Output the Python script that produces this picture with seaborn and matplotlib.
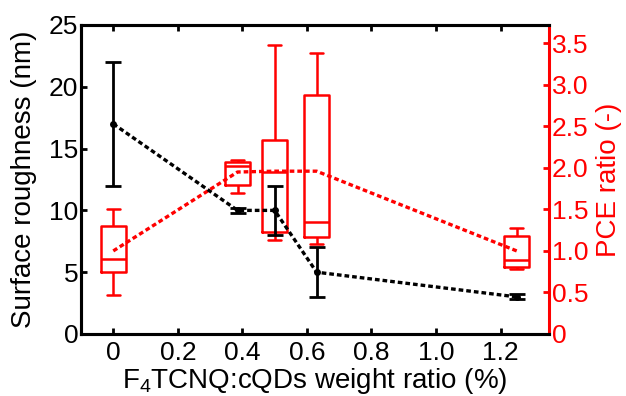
import numpy as np
import pandas as pd
import seaborn as sns
import matplotlib.pyplot as plt

# --- Data ---
ratio = [0, 0.385, 0.5, 0.63, 1.25]

# surface roughness (nm): mean with lower / upper error
rough_mean = [17, 10, 10, 5, 3]
rough_lo = [12, 9.8, 8, 3, 2.8]
rough_hi = [22, 10.2, 12, 7, 3.2]

# PCE ratio box stats: whisker low, q1, median, q3, whisker high
pce_wlo = [0.47, 1.70, 1.13, 1.08, 0.78]
pce_q1 = [0.75, 1.79, 1.23, 1.17, 0.81]
pce_med = [0.90, 2.02, 1.95, 1.35, 0.89]
pce_q3 = [1.30, 2.07, 2.33, 2.88, 1.18]
pce_whi = [1.50, 2.09, 3.48, 3.38, 1.28]
pce_mean = [1.0, 1.95, 1.96, 1.96, 1.0]

sns.set_style("ticks")
plt.rcParams["font.family"] = ["Liberation Sans", "DejaVu Sans"]
plt.rcParams["mathtext.fontset"] = "custom"
plt.rcParams["mathtext.rm"] = "Liberation Sans"
plt.rcParams["mathtext.it"] = "Liberation Sans:italic"
for key in ("text.color", "axes.labelcolor", "xtick.color", "ytick.color",
            "axes.edgecolor"):
    plt.rcParams[key] = "black"

# five values per group so the quartiles land exactly on the stats
rows = []
for i, x in enumerate(ratio):
    for v in (pce_wlo[i], pce_q1[i], pce_med[i], pce_q3[i], pce_whi[i]):
        rows.append({"ratio": x, "pce": v})
df_box = pd.DataFrame(rows)

fig = plt.figure(figsize=(6.26, 3.96), dpi=100)
ax = fig.add_axes([0.1294, 0.1566, 0.7476, 0.7803])
ax2 = ax.twinx()

red = "#ff0000"

sns.boxplot(data=df_box, x="ratio", y="pce", native_scale=True, ax=ax2,
            whis=(0, 100), fill=False, color=red, linewidth=1.8,
            width=0.68, showfliers=False)
sns.lineplot(x=ratio, y=pce_mean, ax=ax2, color=red,
             linestyle=(0, (1.4, 0.9)), linewidth=2.4)

yerr = [np.subtract(rough_mean, rough_lo), np.subtract(rough_hi, rough_mean)]
sns.lineplot(x=ratio, y=rough_mean, ax=ax, color="black",
             linestyle=(0, (1.4, 0.9)), linewidth=2.4,
             marker="o", markersize=5, markeredgewidth=0)
ax.errorbar(ratio, rough_mean, yerr=yerr, fmt="none", ecolor="black",
            elinewidth=2, capsize=5.5, capthick=2)

ax.set_zorder(ax2.get_zorder() + 1)
ax.patch.set_visible(False)

ax.set_xlim(-0.1, 1.35)
ax.set_ylim(0, 25)
ax2.set_ylim(0, 3.72)
ax.set_xticks([0, 0.2, 0.4, 0.6, 0.8, 1.0, 1.2])
ax.set_xticklabels(["0", "0.2", "0.4", "0.6", "0.8", "1.0", "1.2"])
ax.set_yticks([0, 5, 10, 15, 20, 25])
ax2.set_yticks([0, 0.5, 1.0, 1.5, 2.0, 2.5, 3.0, 3.5])
ax2.set_yticklabels(["0", "0.5", "1.0", "1.5", "2.0", "2.5", "3.0", "3.5"])

fs = 19
lfs = 20
ax.set_xlabel("F$_4$TCNQ:cQDs weight ratio (%)", fontsize=lfs)
ax.set_ylabel("Surface roughness (nm)", fontsize=lfs)
ax2.set_ylabel("PCE ratio (-)", fontsize=lfs, color=red)
ax.xaxis.set_label_coords(0.5, -0.105)
ax.yaxis.set_label_coords(-0.094, 0.5)
ax2.yaxis.set_label_coords(1.1, 0.5)

ax.tick_params(axis="both", direction="in", length=4, width=2,
               labelsize=fs, top=True, right=False, pad=2)
ax.tick_params(axis="x", pad=5)
ax2.tick_params(axis="y", direction="in", length=4, width=2,
                labelsize=fs, colors=red, pad=2)
ax2.tick_params(axis="x", top=False, bottom=False)
ax2.set_xlabel("")

for a in (ax, ax2):
    for s in a.spines.values():
        s.set_linewidth(2.2)
        s.set_visible(True)
ax2.spines["right"].set_color(red)
ax.spines["right"].set_visible(False)

fig.savefig("out.png", dpi=100)
